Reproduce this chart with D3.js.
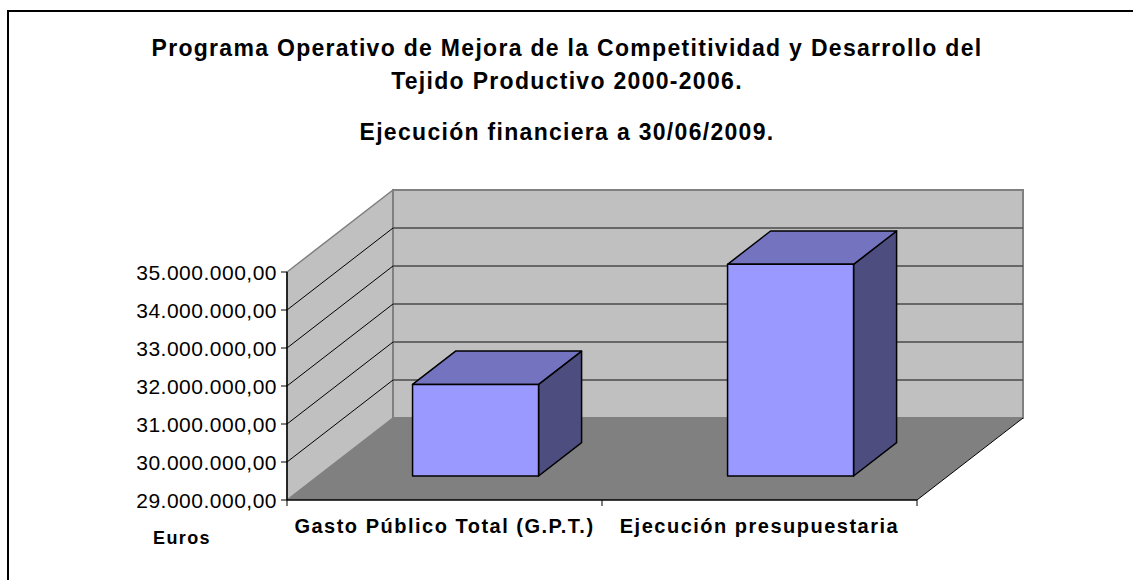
<!DOCTYPE html>
<html>
<head>
<meta charset="utf-8">
<script src="https://cdn.jsdelivr.net/npm/d3@7"></script>
<style>
  body { margin: 0; background: #fff; }
  text { font-family: "Liberation Sans", Arial, sans-serif; }
</style>
</head>
<body>
<div class="c_chart"></div>
<script>
// Datos
const categorias = ["Gasto Público Total (G.P.T.)", "Ejecución presupuestaria"];
const valores = [31410000, 34570000];
const ticks = [29000000, 30000000, 31000000, 32000000, 33000000, 34000000, 35000000];
const titulo = ["Programa Operativo de Mejora de la Competitividad y Desarrollo del",
  "Tejido Productivo 2000-2006.", "Ejecución financiera a 30/06/2009."];
const ejeY = "Euros";

const width = 1133, height = 580;

let svg = d3.select(".c_chart").append("svg")
  .attr("width", width)
  .attr("height", height);

// formato es-ES
const loc = d3.formatLocale({decimal: ",", thousands: ".", grouping: [3], currency: ["", "€"]});
const fmt = loc.format(",.2f");

// marco exterior
svg.append("rect")
  .attr("x", 8).attr("y", 11)
  .attr("width", 1140).attr("height", 600)
  .attr("fill", "none").attr("stroke", "#000").attr("stroke-width", 2);

// escalas
let x = d3.scaleBand().domain(categorias).range([287, 917]).paddingInner(0.6).paddingOuter(0.3);
let y = d3.scaleLinear().domain([29000000, 35000000]).range([500, 272]);
const depth = [106, -82]; // vector de profundidad
const zF = 0.293, zB = 0.699; // profundidad de las barras

const P = (px, py, z) => [px + depth[0] * z, py + depth[1] * z];
const poly = pts => "M" + pts.map(p => p.join(",")).join("L") + "Z";

let x0 = x.range()[0], x1 = x.range()[1];
let yb = y(ticks[0]), yt = y(ticks[ticks.length - 1]);

/* PAREDES
------------------------------------------------------ */
// pared izquierda
svg.append("path")
  .attr("d", poly([[x0, yb], [x0, yt], P(x0, yt, 1), P(x0, yb, 1)]))
  .attr("fill", "#c0c0c0").attr("stroke", "#808080").attr("stroke-width", 1.5);
// pared del fondo
svg.append("path")
  .attr("d", poly([P(x0, yt, 1), P(x1, yt, 1), P(x1, yb, 1), P(x0, yb, 1)]))
  .attr("fill", "#c0c0c0").attr("stroke", "#808080").attr("stroke-width", 2);
// suelo
svg.append("path")
  .attr("d", poly([[x0, yb], [x1, yb], P(x1, yb, 1), P(x0, yb, 1)]))
  .attr("fill", "#808080").attr("stroke", "none");

// líneas de división
let inner = ticks.slice(1, -1);
svg.selectAll(".gridBack").data(inner).enter().append("line")
  .attr("x1", d => P(x0, y(d), 1)[0]).attr("y1", d => P(x0, y(d), 1)[1])
  .attr("x2", d => P(x1, y(d), 1)[0]).attr("y2", d => P(x1, y(d), 1)[1])
  .attr("stroke", "#4a4a4a").attr("stroke-width", 1.6);
svg.selectAll(".gridLeft").data(inner).enter().append("line")
  .attr("x1", x0).attr("y1", d => y(d))
  .attr("x2", d => P(x0, y(d), 1)[0]).attr("y2", d => P(x0, y(d), 1)[1])
  .attr("stroke", "#000").attr("stroke-width", 1);

// borde derecho del suelo
svg.append("line")
  .attr("x1", x1).attr("y1", yb)
  .attr("x2", P(x1, yb, 1)[0]).attr("y2", P(x1, yb, 1)[1])
  .attr("stroke", "#000").attr("stroke-width", 1);

/* EJES
------------------------------------------------------ */
svg.append("line").attr("x1", x0).attr("x2", x0).attr("y1", yt).attr("y2", yb)
  .attr("stroke", "#000").attr("stroke-width", 1.5);
svg.append("line").attr("x1", x0).attr("x2", x1).attr("y1", yb).attr("y2", yb)
  .attr("stroke", "#000").attr("stroke-width", 1.5);

svg.selectAll(".tickY").data(ticks).enter().append("line")
  .attr("x1", x0 - 6).attr("x2", x0).attr("y1", d => y(d)).attr("y2", d => y(d))
  .attr("stroke", "#000").attr("stroke-width", 1);
svg.selectAll(".lblY").data(ticks).enter().append("text")
  .attr("x", x0 - 10).attr("y", d => y(d) + 7.5)
  .attr("text-anchor", "end").attr("font-size", 21)
  .attr("letter-spacing", 0.5)
  .text(d => fmt(d));

let bordes = [x0, x0 + x.step(), x1];
svg.selectAll(".tickX").data(bordes).enter().append("line")
  .attr("x1", d => d).attr("x2", d => d).attr("y1", yb).attr("y2", yb + 6)
  .attr("stroke", "#000").attr("stroke-width", 1);

svg.selectAll(".lblX").data(categorias).enter().append("text")
  .attr("x", d => x(d) + x.bandwidth() / 2)
  .attr("y", 533)
  .attr("text-anchor", "middle").attr("font-size", 20).attr("font-weight", "bold")
  .attr("letter-spacing", 1.5)
  .text(d => d);

svg.append("text").attr("x", 182).attr("y", 544)
  .attr("text-anchor", "middle").attr("font-size", 18).attr("font-weight", "bold")
  .attr("letter-spacing", 1.4)
  .text(ejeY);

/* BARRAS
------------------------------------------------------ */
let barras = svg.selectAll(".bar").data(valores).enter().append("g").attr("class", "bar");
barras.each(function(v, i) {
  let g = d3.select(this);
  let bx0 = x(categorias[i]), bx1 = bx0 + x.bandwidth();
  let top = y(v), bot = y(ticks[0]);
  // lateral
  g.append("path")
    .attr("d", poly([P(bx1, bot, zF), P(bx1, top, zF), P(bx1, top, zB), P(bx1, bot, zB)]))
    .attr("fill", "#4d4d80").attr("stroke", "#000").attr("stroke-width", 1.5).attr("stroke-linejoin", "round");
  // techo
  g.append("path")
    .attr("d", poly([P(bx0, top, zF), P(bx1, top, zF), P(bx1, top, zB), P(bx0, top, zB)]))
    .attr("fill", "#7373bf").attr("stroke", "#000").attr("stroke-width", 1.5).attr("stroke-linejoin", "round");
  // frente
  g.append("path")
    .attr("d", poly([P(bx0, bot, zF), P(bx0, top, zF), P(bx1, top, zF), P(bx1, bot, zF)]))
    .attr("fill", "#9999ff").attr("stroke", "#000").attr("stroke-width", 1.5).attr("stroke-linejoin", "round");
});

/* TITULO
------------------------------------------------------ */
const tBase = [56, 89, 140];
svg.selectAll(".titulo").data(titulo).enter().append("text")
  .attr("x", 567).attr("y", (d, i) => tBase[i])
  .attr("text-anchor", "middle").attr("font-size", 23).attr("font-weight", "bold")
  .attr("letter-spacing", 1.3)
  .text(d => d);
</script>
</body>
</html>
